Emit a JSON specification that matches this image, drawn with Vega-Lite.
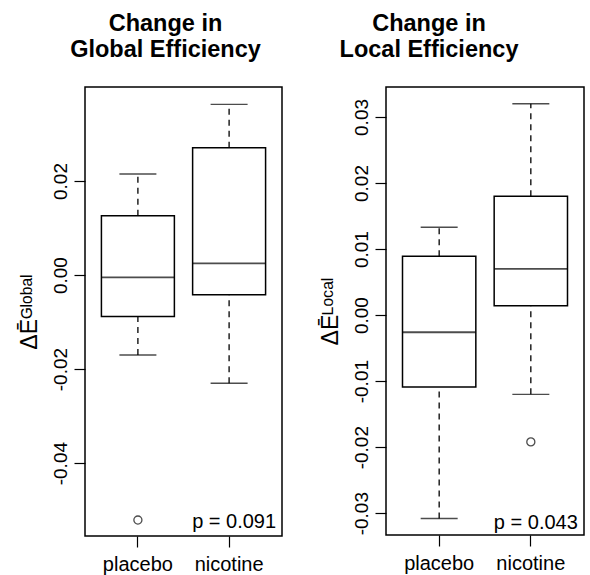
{
  "$schema": "https://vega.github.io/schema/vega-lite/v6.json",
  "padding": {"left": 17, "top": 10, "right": 2, "bottom": 2},
  "background": "white",
  "datasets": {
    "global_box": [
      {"group": "placebo", "low": -0.0170, "q1": -0.0088, "median": -0.0005, "q3": 0.0126, "high": 0.0215},
      {"group": "nicotine", "low": -0.0230, "q1": -0.0042, "median": 0.0025, "q3": 0.0271, "high": 0.0363}
    ],
    "global_out": [
      {"group": "placebo", "value": -0.0521}
    ],
    "local_box": [
      {"group": "placebo", "low": -0.0308, "q1": -0.0109, "median": -0.0026, "q3": 0.0089, "high": 0.0133},
      {"group": "nicotine", "low": -0.0120, "q1": 0.0014, "median": 0.0070, "q3": 0.0180, "high": 0.0320}
    ],
    "local_out": [
      {"group": "nicotine", "value": -0.0192}
    ],
    "global_p": [{"group": "nicotine", "label": "p = 0.091"}],
    "local_p": [{"group": "nicotine", "label": "p = 0.043"}]
  },
  "config": {
    "font": "Liberation Sans",
    "view": {"stroke": "black", "strokeWidth": 1.5},
    "axis": {"grid": false, "domain": false, "tickColor": "black", "tickWidth": 1.2, "labelColor": "black", "titleColor": "black", "labelFont": "Liberation Sans", "titleFont": "Liberation Sans, DejaVu Sans"},
    "title": {"color": "black", "font": "Liberation Sans", "fontWeight": "bold", "fontSize": 23.5, "lineHeight": 26}
  },
  "spacing": 35,
  "hconcat": [
    {
      "width": 197,
      "height": 449,
      "title": {"text": ["Change in", "Global Efficiency"], "anchor": "middle", "frame": "group", "dx": -18, "offset": 26},
      "layer": [
        {
          "data": {"name": "global_box"},
          "mark": {"type": "rule", "strokeDash": [6, 5], "strokeWidth": 1.3, "color": "black"},
          "encoding": {
            "x": {"field": "group", "type": "nominal", "sort": ["placebo", "nicotine"], "scale": {"domain": ["placebo", "nicotine"], "paddingInner": 0.2, "paddingOuter": 0.18}, "axis": {"title": null, "labelAngle": 0, "labelFontSize": 20, "tickSize": 11, "labelPadding": 7}},
            "y": {"field": "low", "type": "quantitative", "scale": {"domain": [-0.0555, 0.04], "nice": false, "zero": false}, "axis": {"title": "ΔĒᴳˡᵒᵇᵃˡ", "titleFontSize": 23, "titleFontWeight": "normal", "titlePadding": 10, "labelAngle": -90, "labelFontSize": 19, "values": [-0.04, -0.02, 0, 0.02], "format": ".2f", "labelExpr": "replace(datum.label, '−', '-')", "tickSize": 11, "labelPadding": 4}},
            "y2": {"field": "q1"}
          }
        },
        {
          "data": {"name": "global_box"},
          "mark": {"type": "rule", "strokeDash": [6, 5], "strokeWidth": 1.3, "color": "black"},
          "encoding": {
            "x": {"field": "group", "type": "nominal", "sort": ["placebo", "nicotine"]},
            "y": {"field": "q3", "type": "quantitative"},
            "y2": {"field": "high"}
          }
        },
        {
          "data": {"name": "global_box"},
          "mark": {"type": "bar", "fill": "white", "stroke": "black", "strokeWidth": 1.5},
          "encoding": {
            "x": {"field": "group", "type": "nominal", "sort": ["placebo", "nicotine"]},
            "y": {"field": "q1", "type": "quantitative"},
            "y2": {"field": "q3"}
          }
        },
        {
          "data": {"name": "global_box"},
          "mark": {"type": "tick", "size": 73, "thickness": 1.8, "color": "black"},
          "encoding": {
            "x": {"field": "group", "type": "nominal", "sort": ["placebo", "nicotine"]},
            "y": {"field": "median", "type": "quantitative"}
          }
        },
        {
          "data": {"name": "global_box"},
          "mark": {"type": "tick", "size": 37, "thickness": 1.4, "color": "black"},
          "encoding": {
            "x": {"field": "group", "type": "nominal", "sort": ["placebo", "nicotine"]},
            "y": {"field": "low", "type": "quantitative"}
          }
        },
        {
          "data": {"name": "global_box"},
          "mark": {"type": "tick", "size": 37, "thickness": 1.4, "color": "black"},
          "encoding": {
            "x": {"field": "group", "type": "nominal", "sort": ["placebo", "nicotine"]},
            "y": {"field": "high", "type": "quantitative"}
          }
        },
        {
          "data": {"name": "global_out"},
          "mark": {"type": "point", "shape": "circle", "filled": false, "size": 65, "stroke": "black", "strokeWidth": 1.3},
          "encoding": {
            "x": {"field": "group", "type": "nominal", "sort": ["placebo", "nicotine"]},
            "y": {"field": "value", "type": "quantitative"}
          }
        },
        {
          "data": {"name": "global_p"},
          "mark": {"type": "text", "align": "right", "baseline": "alphabetic", "fontSize": 20, "dx": 47, "dy": -8, "color": "black"},
          "encoding": {
            "x": {"field": "group", "type": "nominal", "sort": ["placebo", "nicotine"]},
            "y": {"datum": -0.0555, "type": "quantitative"},
            "text": {"field": "label"}
          }
        }
      ]
    },
    {
      "width": 198,
      "height": 448,
      "title": {"text": ["Change in", "Local Efficiency"], "anchor": "middle", "frame": "group", "dx": -56, "offset": 26},
      "layer": [
        {
          "data": {"name": "local_box"},
          "mark": {"type": "rule", "strokeDash": [6, 5], "strokeWidth": 1.3, "color": "black"},
          "encoding": {
            "x": {"field": "group", "type": "nominal", "sort": ["placebo", "nicotine"], "scale": {"domain": ["placebo", "nicotine"], "paddingInner": 0.2, "paddingOuter": 0.18}, "axis": {"title": null, "labelAngle": 0, "labelFontSize": 20, "tickSize": 11, "labelPadding": 7}},
            "y": {"field": "low", "type": "quantitative", "scale": {"domain": [-0.0333, 0.03454], "nice": false, "zero": false}, "axis": {"title": "ΔĒᴸᵒᶜᵃˡ", "titleFontSize": 23, "titleFontWeight": "normal", "titlePadding": 10, "labelAngle": -90, "labelFontSize": 19, "values": [-0.03, -0.02, -0.01, 0, 0.01, 0.02, 0.03], "format": ".2f", "labelExpr": "replace(datum.label, '−', '-')", "tickSize": 11, "labelPadding": 4}},
            "y2": {"field": "q1"}
          }
        },
        {
          "data": {"name": "local_box"},
          "mark": {"type": "rule", "strokeDash": [6, 5], "strokeWidth": 1.3, "color": "black"},
          "encoding": {
            "x": {"field": "group", "type": "nominal", "sort": ["placebo", "nicotine"]},
            "y": {"field": "q3", "type": "quantitative"},
            "y2": {"field": "high"}
          }
        },
        {
          "data": {"name": "local_box"},
          "mark": {"type": "bar", "fill": "white", "stroke": "black", "strokeWidth": 1.5},
          "encoding": {
            "x": {"field": "group", "type": "nominal", "sort": ["placebo", "nicotine"]},
            "y": {"field": "q1", "type": "quantitative"},
            "y2": {"field": "q3"}
          }
        },
        {
          "data": {"name": "local_box"},
          "mark": {"type": "tick", "size": 73, "thickness": 1.8, "color": "black"},
          "encoding": {
            "x": {"field": "group", "type": "nominal", "sort": ["placebo", "nicotine"]},
            "y": {"field": "median", "type": "quantitative"}
          }
        },
        {
          "data": {"name": "local_box"},
          "mark": {"type": "tick", "size": 37, "thickness": 1.4, "color": "black"},
          "encoding": {
            "x": {"field": "group", "type": "nominal", "sort": ["placebo", "nicotine"]},
            "y": {"field": "low", "type": "quantitative"}
          }
        },
        {
          "data": {"name": "local_box"},
          "mark": {"type": "tick", "size": 37, "thickness": 1.4, "color": "black"},
          "encoding": {
            "x": {"field": "group", "type": "nominal", "sort": ["placebo", "nicotine"]},
            "y": {"field": "high", "type": "quantitative"}
          }
        },
        {
          "data": {"name": "local_out"},
          "mark": {"type": "point", "shape": "circle", "filled": false, "size": 65, "stroke": "black", "strokeWidth": 1.3},
          "encoding": {
            "x": {"field": "group", "type": "nominal", "sort": ["placebo", "nicotine"]},
            "y": {"field": "value", "type": "quantitative"}
          }
        },
        {
          "data": {"name": "local_p"},
          "mark": {"type": "text", "align": "right", "baseline": "alphabetic", "fontSize": 20, "dx": 47, "dy": -6, "color": "black"},
          "encoding": {
            "x": {"field": "group", "type": "nominal", "sort": ["placebo", "nicotine"]},
            "y": {"datum": -0.0333, "type": "quantitative"},
            "text": {"field": "label"}
          }
        }
      ]
    }
  ]
}
